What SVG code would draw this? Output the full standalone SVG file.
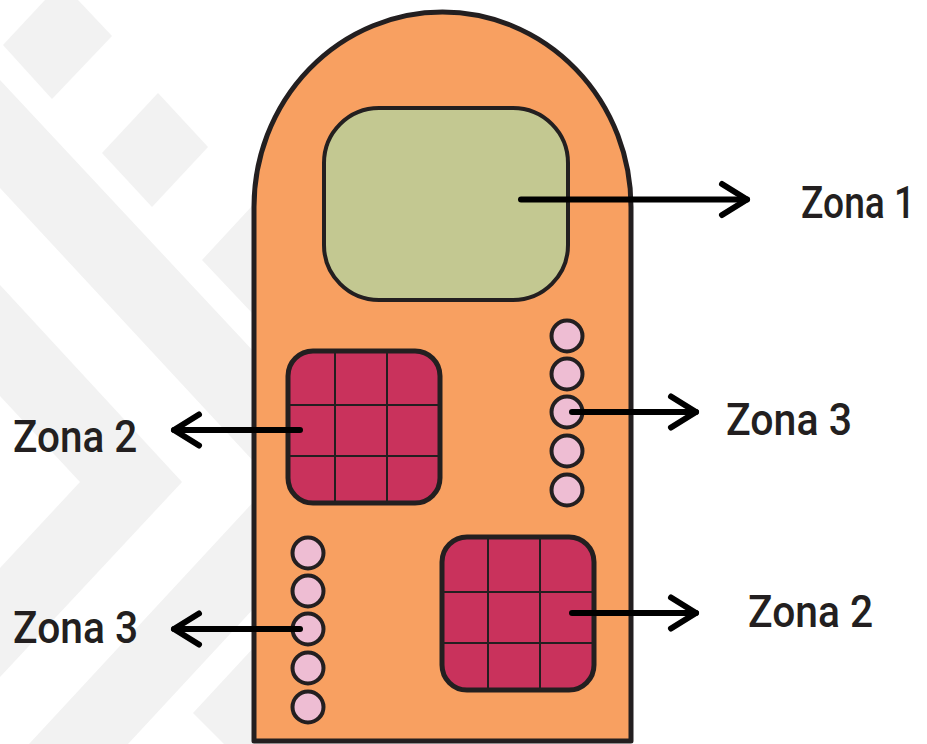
<svg xmlns="http://www.w3.org/2000/svg" width="927" height="744" viewBox="0 0 927 744">
  <style>
    .bg { fill: #F2F2F2; }
    .outline { stroke: #231F20; stroke-linejoin: round; }
    .body { fill: #F8A061; stroke-width: 5; }
    .zone1 { fill: #C3C891; stroke-width: 4; }
    .grid { fill: #C9325C; stroke-width: 5; }
    .gridline { stroke: #231F20; stroke-width: 2; fill: none; }
    .dot { fill: #EEBDD3; stroke-width: 4; }
    .conn { stroke: #000; stroke-width: 6; stroke-linecap: round; fill: none; }
    .label { font-family: Roboto, "Liberation Sans", sans-serif; font-weight: 500; font-size: 45px; fill: #231F20; }
  </style>
  <defs>
    <marker id="head" markerUnits="userSpaceOnUse" orient="auto" refX="0" refY="0" markerWidth="40" markerHeight="40" overflow="visible">
      <path d="M-25,-15.5 L0,0 L-25,15.5" fill="none" stroke="#000" stroke-width="6" stroke-linecap="round" stroke-linejoin="round"/>
    </marker>
  </defs>

  <rect width="927" height="744" fill="#FFFFFF"/>

  <g id="background">
    <polygon class="bg" points="45,0 78,0 112,36 52,99 3,45"/>
    <polygon class="bg" points="158,93 208,147 152,207 102,153"/>
    <polygon class="bg" points="202,260 252,206 302,260 252,313"/>
    <polygon class="bg" points="0,80 270,369 270,479 0,188"/>
    <polygon class="bg" points="0,285 182,482 0,677 0,568 80,482 0,396"/>
    <polygon class="bg" points="270,484 270,591 128,744 29,744"/>
    <polygon class="bg" points="193,713 270,630 270,744 224,744"/>
  </g>

  <g id="finger">
    <path class="outline body" d="M254,741 V207 A188.5,195 0 0 1 631,207 V741 Z"/>
  </g>

  <g id="zone1">
    <rect class="outline zone1" x="324" y="108" width="244" height="192" rx="55" ry="55"/>
  </g>

  <g id="zone2-top">
    <rect class="outline grid" x="288" y="351" width="152" height="152" rx="25" ry="25"/>
    <path class="gridline" d="M335,351 V503 M387,351 V503 M288,405 H440 M288,456 H440"/>
  </g>

  <g id="zone2-bottom">
    <rect class="outline grid" x="442" y="537" width="152" height="153" rx="25" ry="25"/>
    <path class="gridline" d="M488,537 V690 M540,537 V690 M442,592 H594 M442,643 H594"/>
  </g>

  <g id="zone3-right">
    <circle class="outline dot" cx="567" cy="336" r="15.5"/>
    <circle class="outline dot" cx="567" cy="374" r="15.5"/>
    <circle class="outline dot" cx="567" cy="412" r="15.5"/>
    <circle class="outline dot" cx="567" cy="451" r="15.5"/>
    <circle class="outline dot" cx="567" cy="490" r="15.5"/>
  </g>

  <g id="zone3-left">
    <circle class="outline dot" cx="308" cy="553" r="15.5"/>
    <circle class="outline dot" cx="308" cy="591" r="15.5"/>
    <circle class="outline dot" cx="308" cy="629" r="15.5"/>
    <circle class="outline dot" cx="308" cy="668" r="15.5"/>
    <circle class="outline dot" cx="308" cy="707" r="15.5"/>
  </g>

  <g id="connectors">
    <path class="conn" d="M521,199.5 H747" marker-end="url(#head)"/>
    <path class="conn" d="M572,412 H696" marker-end="url(#head)"/>
    <path class="conn" d="M572,613 H696" marker-end="url(#head)"/>
    <path class="conn" d="M300,430 H174" marker-end="url(#head)"/>
    <path class="conn" d="M300,629 H174" marker-end="url(#head)"/>
  </g>

  <g id="label-zona1"><text class="label" transform="translate(801,218) scale(0.84,1)" x="0" y="0" textLength="136" lengthAdjust="spacingAndGlyphs">Zona 1</text></g>
  <g id="label-zona3-right"><text class="label" transform="translate(726,435) scale(0.84,1)" x="0" y="0" textLength="150" lengthAdjust="spacingAndGlyphs">Zona 3</text></g>
  <g id="label-zona2-right"><text class="label" transform="translate(748,627) scale(0.84,1)" x="0" y="0" textLength="149" lengthAdjust="spacingAndGlyphs">Zona 2</text></g>
  <g id="label-zona2-left"><text class="label" transform="translate(13,452) scale(0.84,1)" x="0" y="0" textLength="148" lengthAdjust="spacingAndGlyphs">Zona 2</text></g>
  <g id="label-zona3-left"><text class="label" transform="translate(13,643) scale(0.84,1)" x="0" y="0" textLength="149" lengthAdjust="spacingAndGlyphs">Zona 3</text></g>
</svg>
